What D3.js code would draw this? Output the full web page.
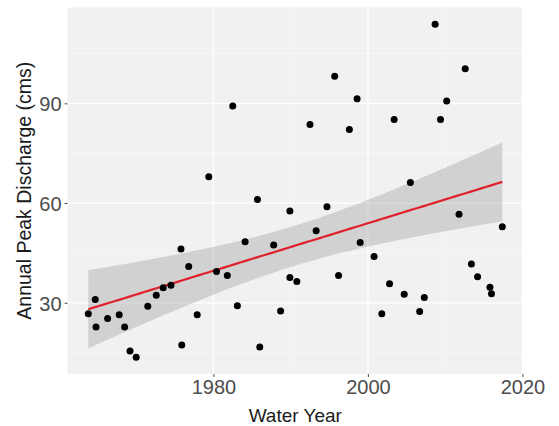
<!DOCTYPE html>
<html>
<head>
<meta charset="utf-8">
<script src="https://cdn.jsdelivr.net/npm/d3@7"></script>
<style>
    body { margin: 0; background: #fff; }
    svg { display: block; font-family: "Liberation Sans", Arial, sans-serif; }
    .axis text { fill: #4d4d4d; font-size: 20px; }
    .axis line { stroke: #4d4d4d; }
    .axis-title { fill: #1a1a1a; font-size: 19px; }
</style>
</head>
<body>
<svg id="chart"></svg>
<script>
// Water year and annual peak discharge (cms)
const waterYears = [
    1963.8, 1964.7, 1964.8, 1966.3, 1967.8, 1968.5, 1969.2, 1970.0, 1971.5, 1972.6,
    1973.5, 1974.5, 1975.8, 1975.9, 1976.8, 1977.9, 1979.4, 1980.4, 1981.8, 1982.5,
    1983.1, 1984.1, 1985.7, 1986.0, 1987.8, 1988.7, 1989.9, 1989.9, 1990.8, 1992.5,
    1993.3, 1994.7, 1995.7, 1996.2, 1997.6, 1998.6, 1999.0, 2000.8, 2001.8, 2002.8,
    2003.4, 2004.7, 2005.5, 2006.7, 2007.3, 2008.7, 2009.4, 2010.2, 2011.8, 2012.6,
    2013.4, 2014.2, 2015.8, 2016.0, 2017.4
];
const peakDischarge = [
    26.7, 31.0, 22.7, 25.3, 26.4, 22.7, 15.5, 13.6, 29.0, 32.3,
    34.5, 35.3, 46.2, 17.3, 40.9, 26.4, 67.9, 39.4, 38.2, 89.2,
    29.1, 48.4, 61.1, 16.7, 47.4, 27.5, 37.6, 57.6, 36.4, 83.6,
    51.7, 58.9, 98.1, 38.2, 82.1, 91.4, 48.1, 43.9, 26.7, 35.7,
    85.1, 32.6, 66.2, 27.4, 31.6, 113.8, 85.1, 90.7, 56.6, 100.4,
    41.7, 37.8, 34.7, 32.7, 52.9
];
const xTicks = [1980, 2000, 2020];
const xMinorTicks = [1970, 1990, 2010];
const yTicks = [30, 60, 90];
const yMinorTicks = [15, 45, 75, 105];

class ScatterChart {

    constructor(_config) {
        this.config = {
            parentElement: _config.parentElement,
            containerWidth: _config.containerWidth || 559,
            containerHeight: _config.containerHeight || 426,
            margin: { top: 7.5, bottom: 52, right: 36, left: 67.6 }
        }
        this.data = waterYears.map((y, i) => ({ year: y, peak: peakDischarge[i] }));
        this.initVis();
    }

    initVis() {
        let vis = this;

        vis.width = vis.config.containerWidth - vis.config.margin.left - vis.config.margin.right;
        vis.height = vis.config.containerHeight - vis.config.margin.top - vis.config.margin.bottom;

        // ggplot style 5% expansion of the data range
        let xExt = d3.extent(vis.data, d => d.year);
        let yExt = d3.extent(vis.data, d => d.peak);
        let xPad = (xExt[1] - xExt[0]) * 0.05;
        let yPad = (yExt[1] - yExt[0]) * 0.05;

        vis.xScale = d3.scaleLinear()
            .domain([xExt[0] - xPad, xExt[1] + xPad])
            .range([0, vis.width]);

        vis.yScale = d3.scaleLinear()
            .domain([yExt[0] - yPad, yExt[1] + yPad])
            .range([vis.height, 0]);

        vis.svg = d3.select(vis.config.parentElement)
            .attr('width', vis.config.containerWidth)
            .attr('height', vis.config.containerHeight);

        vis.chart = vis.svg.append('g')
            .attr('transform', `translate(${vis.config.margin.left},${vis.config.margin.top})`);

        // Panel background
        vis.chart.append('rect')
            .attr('width', vis.width)
            .attr('height', vis.height)
            .attr('fill', '#f1f1f1');

        // Grid lines (minor thinner than major)
        vis.chart.selectAll('.x-minor').data(xMinorTicks).join('line')
            .attr('x1', d => vis.xScale(d)).attr('x2', d => vis.xScale(d))
            .attr('y1', 0).attr('y2', vis.height)
            .attr('stroke', '#fafafa').attr('stroke-width', 0.7);
        vis.chart.selectAll('.y-minor').data(yMinorTicks).join('line')
            .attr('y1', d => vis.yScale(d)).attr('y2', d => vis.yScale(d))
            .attr('x1', 0).attr('x2', vis.width)
            .attr('stroke', '#fafafa').attr('stroke-width', 0.7);
        vis.chart.selectAll('.x-major').data(xTicks).join('line')
            .attr('x1', d => vis.xScale(d)).attr('x2', d => vis.xScale(d))
            .attr('y1', 0).attr('y2', vis.height)
            .attr('stroke', '#fff').attr('stroke-width', 1.3);
        vis.chart.selectAll('.y-major').data(yTicks).join('line')
            .attr('y1', d => vis.yScale(d)).attr('y2', d => vis.yScale(d))
            .attr('x1', 0).attr('x2', vis.width)
            .attr('stroke', '#fff').attr('stroke-width', 1.3);

        // Linear fit with 95% confidence band
        let n = vis.data.length;
        let xBar = d3.mean(vis.data, d => d.year);
        let yBar = d3.mean(vis.data, d => d.peak);
        let sxx = d3.sum(vis.data, d => (d.year - xBar) ** 2);
        let sxy = d3.sum(vis.data, d => (d.year - xBar) * (d.peak - yBar));
        let slope = sxy / sxx;
        let intercept = yBar - slope * xBar;
        let sse = d3.sum(vis.data, d => (d.peak - (intercept + slope * d.year)) ** 2);
        let s = Math.sqrt(sse / (n - 2));
        let tCrit = 2.006; // t(0.975, df = 53)

        let fit = d3.range(80).map(i => {
            let x = xExt[0] + (xExt[1] - xExt[0]) * i / 79;
            let yHat = intercept + slope * x;
            let se = s * Math.sqrt(1 / n + (x - xBar) ** 2 / sxx);
            return { x: x, y: yHat, lo: yHat - tCrit * se, hi: yHat + tCrit * se };
        });

        vis.chart.append('path')
            .datum(fit)
            .attr('fill', '#999')
            .attr('fill-opacity', 0.36)
            .attr('d', d3.area()
                .x(d => vis.xScale(d.x))
                .y0(d => vis.yScale(d.lo))
                .y1(d => vis.yScale(d.hi))
            );

        vis.chart.append('path')
            .datum(fit)
            .attr('fill', 'none')
            .attr('stroke', '#e0202a')
            .attr('stroke-width', 2.2)
            .attr('d', d3.line()
                .x(d => vis.xScale(d.x))
                .y(d => vis.yScale(d.y))
            );

        // Points
        vis.chart.selectAll('.point').data(vis.data).join('circle')
            .attr('class', 'point')
            .attr('cx', d => vis.xScale(d.year))
            .attr('cy', d => vis.yScale(d.peak))
            .attr('r', 3.5)
            .attr('fill', '#000');

        // Axes
        vis.xAxis = d3.axisBottom(vis.xScale)
            .tickValues(xTicks)
            .tickSize(3)
            .tickPadding(3)
            .tickFormat(d3.format('d'));

        vis.yAxis = d3.axisLeft(vis.yScale)
            .tickValues(yTicks)
            .tickSize(3)
            .tickPadding(3);

        vis.xAxisG = vis.chart.append('g')
            .attr('class', 'axis x-axis')
            .attr('transform', `translate(0,${vis.height})`)
            .call(vis.xAxis);

        vis.yAxisG = vis.chart.append('g')
            .attr('class', 'axis y-axis')
            .call(vis.yAxis);

        vis.chart.selectAll('.axis .domain').remove();
        vis.yAxisG.selectAll('text').attr('dy', '0.36em');

        // Axis titles
        vis.chart.append('text')
            .attr('class', 'axis-title')
            .attr('x', vis.width / 2)
            .attr('y', vis.height + 48)
            .style('text-anchor', 'middle')
            .text('Water Year');

        vis.svg.append('text')
            .attr('class', 'axis-title')
            .attr('transform', `translate(31,${vis.config.margin.top + vis.height / 2}) rotate(-90)`)
            .style('text-anchor', 'middle')
            .style('font-size', '19.5px')
            .text('Annual Peak Discharge (cms)');
    }
}

let chart = new ScatterChart({ parentElement: '#chart' });
</script>
</body>
</html>
